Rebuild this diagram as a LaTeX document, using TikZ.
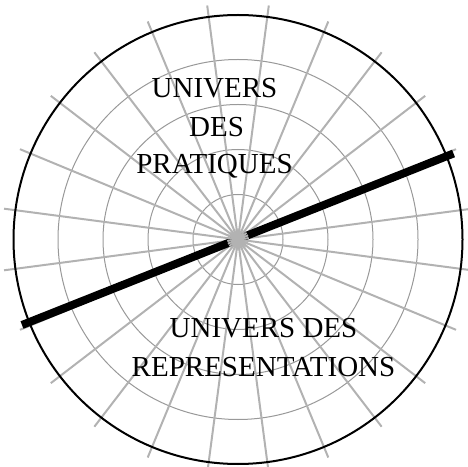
\documentclass[tikz,border=0pt]{standalone}
\usepackage{fontspec}
\setmainfont{Liberation Serif}
\usetikzlibrary{calc}
\begin{document}
\begin{tikzpicture}[x=1pt,y=1pt,
  ring/.style={draw=black!40,line width=1pt},
  spoke/.style={draw=black!30,line width=2pt},
  rim/.style={draw=black,line width=2pt},
  divider/.style={draw=black,line width=8pt},
  label/.style={font=\fontsize{29}{38}\selectfont,inner sep=0pt,anchor=base,text=black}]
\useasboundingbox (0,0) rectangle (468,466);
\clip (0,0) rectangle (468,466);
\coordinate (C) at (238,226.5);
\foreach \r in {45,90,135,180} \draw[ring] (C) circle[radius=\r];
\foreach \k in {0,...,23} {
  \coordinate (S\k) at ($(C)+({7.5+15*\k}:236)$);
  \draw[spoke] (C) -- (S\k);
}
\coordinate (L) at (22,141);
\coordinate (R) at (453.5,312.5);
\draw[divider] (L) -- (R);
\begin{scope}
  \clip (C) circle[radius=11];
  \foreach \k in {0,...,23} \draw[spoke] (C) -- (S\k);
\end{scope}
\draw[rim] (C) circle[radius=224.5];
\node[label] (p1) at (214.5,368.3) {UNIVERS};
\node[label] (p2) at (216.5,329.3) {DES};
\node[label] (p3) at (214.5,292.7) {PRATIQUES};
\node[label] (r1) at (263.5,128.7) {UNIVERS DES};
\node[label] (r2) at (263.5,90) {REPRESENTATIONS};
\end{tikzpicture}
\end{document}
